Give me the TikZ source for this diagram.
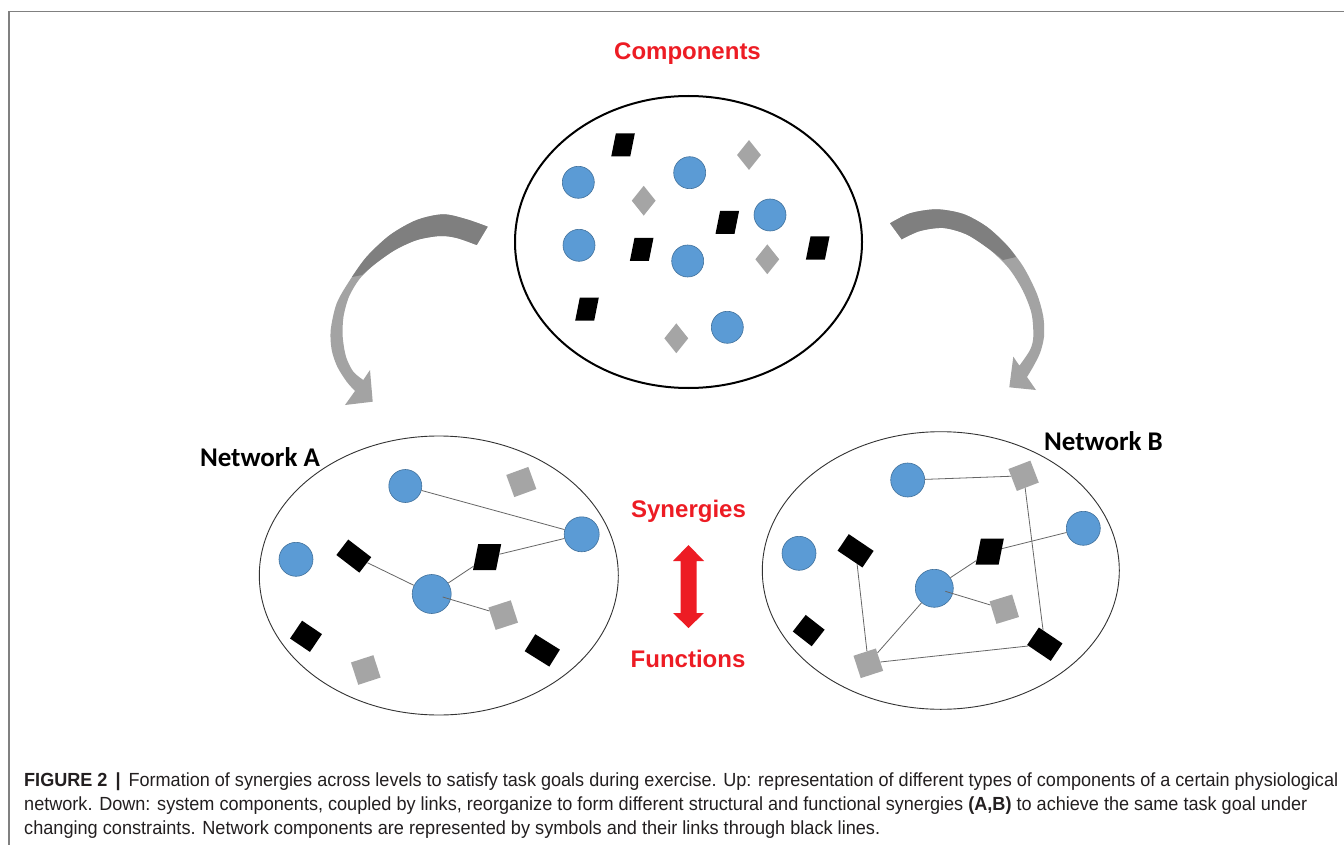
\documentclass[tikz,border=0pt]{standalone}
\usepackage{fontspec}
\usepackage{graphicx}
\setmainfont{Liberation Sans}
\newfontfamily\calfont{Carlito}
\usetikzlibrary{shapes.geometric}
\definecolor{cblue}{HTML}{5B9BD5}
\definecolor{cblueedge}{HTML}{41719C}
\definecolor{sgrey}{HTML}{A5A5A5}
\definecolor{tred}{HTML}{ED1C24}
\definecolor{adark}{HTML}{7F7F7F}
\definecolor{alight}{HTML}{A3A3A3}
\definecolor{captxt}{HTML}{231F20}
\definecolor{framegrey}{HTML}{808080}
\begin{document}
\begin{tikzpicture}[x=1pt,y=-1pt,
  blob/.style={circle,fill=cblue,draw=cblueedge,line width=0.6pt,inner sep=0pt,minimum size=#1},
  blob/.default=32,
  parblk/.style={rectangle,fill=black,inner sep=0pt,minimum width=19,minimum height=23,xslant=0.2},
  bigpar/.style={rectangle,fill=black,inner sep=0pt,minimum width=23,minimum height=26,xslant=0.2},
  gdiam/.style={diamond,fill=sgrey,inner sep=0pt,minimum width=24,minimum height=30},
  gsq/.style={rectangle,fill=sgrey,inner sep=0pt,minimum size=23.5,rotate=#1},
  brect/.style n args={3}{rectangle,fill=black,inner sep=0pt,minimum width=#1,minimum height=#2,rotate=#3},
  netell/.style={ellipse,draw=black!80,line width=0.9pt,inner sep=0pt},
  link/.style={draw=black!60,line width=0.8pt},
  redlab/.style={text=tred,font=\bfseries\fontsize{24}{28}\selectfont,inner sep=0pt},
  netlab/.style={font=\calfont\bfseries\fontsize{27}{32}\selectfont,inner sep=0pt},
  capline/.style={anchor=base west,inner sep=0pt,text=captxt,font=\fontsize{19}{22}\selectfont}]
\useasboundingbox (0,0) rectangle (1344,845);
\fill[white] (0,0) rectangle (1344,845);
% frame
\draw[framegrey,line width=1.2pt] (9,845) -- (9,11.5) -- (1344,11.5);

% ---------- top ellipse ----------
\node[ellipse,draw=black,line width=2pt,inner sep=0pt,minimum width=347,minimum height=292] (topE) at (688.5,242) {};
\node[redlab] (comp) at (687.5,54) {Components};
\node[blob] (cT1) at (578.3,182.3) {};
\node[blob] (cT2) at (689.7,172.7) {};
\node[blob] (cT3) at (770,215) {};
\node[blob] (cT4) at (579,245.3) {};
\node[blob] (cT5) at (687.7,261) {};
\node[blob] (cT6) at (727.3,327.3) {};
\node[parblk] (pT1) at (623,145) {};
\node[parblk] (pT2) at (727.3,222.3) {};
\node[parblk] (pT3) at (641.7,249.3) {};
\node[parblk] (pT4) at (817.7,248) {};
\node[parblk] (pT5) at (587,309) {};
\node[gdiam] (dT1) at (749,155) {};
\node[gdiam] (dT2) at (643.7,200.7) {};
\node[gdiam] (dT3) at (767.3,259.3) {};
\node[gdiam] (dT4) at (676.3,338.3) {};

% ---------- curved arrows ----------
\fill[alight] plot[smooth] coordinates {(487.7,226.7) (466.7,219.3) (443.3,214.3) (416.7,220) (390,235) (366.7,256.7) (350,280) (336.7,303.3) (330.7,330) (331.7,350) (337.3,366.7) (346.7,381.7) (355,391)}
  -- (345,405) -- (372.7,401.7) -- (370,370)
  -- plot[smooth] coordinates {(363.3,380) (353.3,371.7) (346,356.7) (342.7,336.7) (343.5,316.7) (349,296.7) (359.5,279) (375,264) (395,250) (417,240) (440,236) (456.7,238) (476.7,245)} -- cycle;
\fill[adark] plot[smooth] coordinates {(487.7,226.7) (466.7,219.3) (443.3,214.3) (416.7,220) (390,235) (366.7,256.7) (352,277)}
  -- plot[smooth] coordinates {(362,275) (375,264) (395,250) (417,240) (440,236) (456.7,238) (476.7,245)} -- cycle;

\fill[alight] plot[smooth] coordinates {(890,223.3) (910,213.3) (936.7,209.3) (963.3,214) (986.7,226.7) (1006.7,245) (1023.3,266.7) (1036.7,293.3) (1043.3,316.7) (1044,336.7) (1040,353) (1033,367) (1027,377)}
  -- (1036,390) -- (1009.3,387.3) -- (1013.3,356.7)
  -- plot[smooth] coordinates {(1019.4,365.7) (1030,350) (1033.3,336.7) (1031.5,313.3) (1022.5,290) (1008.5,268) (989,249) (966.7,234.5) (943.3,228) (920,231) (901.7,239.3)} -- cycle;
\fill[adark] plot[smooth] coordinates {(890,223.3) (910,213.3) (936.7,209.3) (963.3,214) (986.7,226.7) (1006.7,245) (1016,257)}
  -- plot[smooth] coordinates {(1003,260) (989,249) (966.7,234.5) (943.3,228) (920,231) (901.7,239.3)} -- cycle;

% ---------- network A ----------
\node[netell,minimum width=359,minimum height=279] (ellA) at (438.8,575.5) {};
\node[netlab] (netA) at (260,457) {Network A};
\node[blob=33] (cA1) at (405.3,486) {};
\node[blob=35] (cA2) at (581.7,534.3) {};
\node[blob=34] (cA3) at (296,559.3) {};
\node[blob=39] (cA4) at (431.7,594) {};
\node[brect={29}{19.5}{-37.5}] (bA1) at (353.8,556.1) {};
\node[bigpar] (bA2) at (487.1,557.2) {};
\node[brect={24}{21.5}{-34}] (bA3) at (306,636.3) {};
\node[brect={29}{20}{-32}] (bA4) at (542.3,650.4) {};
\node[gsq=20] (gA1) at (521.3,482) {};
\node[gsq=18] (gA2) at (503.2,615.1) {};
\node[gsq=18] (gA3) at (365.8,670) {};
\draw[link] (cA1) -- (cA2);
\draw[link] (bA1) -- (cA4);
\draw[link] (cA4) -- (bA2);
\draw[link] (bA2) -- (cA2);
\draw[link] ([shift={(11,3)}]cA4.center) -- (gA2);

% ---------- network B ----------
\node[netell,minimum width=357,minimum height=277.6] (ellB) at (940.8,570.5) {};
\node[netlab] (netB) at (1103.5,441) {Network B};
\node[blob=34] (cB1) at (907.7,480) {};
\node[blob=34] (cB2) at (1083.3,528.3) {};
\node[blob=34] (cB3) at (799,553.3) {};
\node[blob=38] (cB4) at (934.3,588.3) {};
\node[brect={30}{20}{-34}] (bB1) at (855.6,550.8) {};
\node[bigpar] (bB2) at (989.7,551.7) {};
\node[brect={24}{21}{-38}] (bB3) at (808.7,630.6) {};
\node[brect={28.5}{21}{-34}] (bB4) at (1044.8,644.2) {};
\node[gsq=21] (gB1) at (1023.6,475.8) {};
\node[gsq=17] (gB2) at (1004.3,609.2) {};
\node[gsq=18] (gB3) at (868.3,663.3) {};
\draw[link] (cB1) -- (gB1);
\draw[link] (gB1) -- (bB4);
\draw[link] (bB2) -- (cB2);
\draw[link] (cB4) -- (bB2);
\draw[link] ([shift={(11,3)}]cB4.center) -- (gB2);
\draw[link] (bB1) -- (gB3);
\draw[link] (gB3) -- (cB4);
\draw[link] (gB3) -- (bB4);

% ---------- centre ----------
\node[redlab] (syn) at (688.5,511) {Synergies};
\node[redlab] (fun) at (688,659) {Functions};
\fill[tred] (688.5,545) -- (704,561) -- (696.5,561) -- (696.5,613) -- (704,613) -- (688.5,628)
  -- (673,613) -- (680.5,613) -- (680.5,561) -- (673,561) -- cycle;

% ---------- caption ----------
\node[capline] (cap1) at (24,786) {\resizebox{1314pt}{\height}{\textbf{FIGURE 2}\, {\bfseries|}\, Formation of synergies across levels to satisfy task goals during exercise. Up: representation of different types of components of a certain physiological}};
\node[capline] (cap2) at (24,810) {\resizebox{1283pt}{\height}{network. Down: system components, coupled by links, reorganize to form different structural and functional synergies \textbf{(A,B)} to achieve the same task goal under}};
\node[capline] (cap3) at (24,834) {\resizebox{856pt}{\height}{changing constraints. Network components are represented by symbols and their links through black lines.}};
\end{tikzpicture}
\end{document}
